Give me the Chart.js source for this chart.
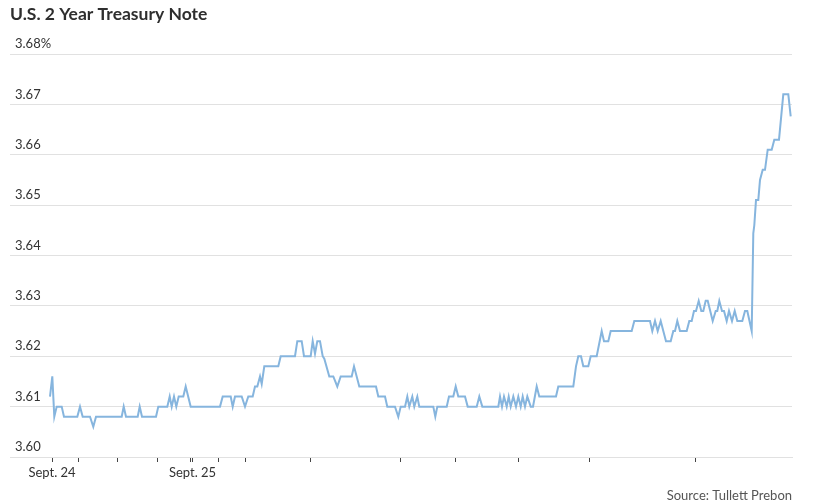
<!DOCTYPE html>
<html>
<head>
<meta charset="utf-8">
<script src="https://cdn.jsdelivr.net/npm/chart.js@4.4.1/dist/chart.umd.min.js"></script>
<style>
  html, body { margin: 0; padding: 0; background: #fff; }
</style>
</head>
<body>
<canvas id="chart" width="820" height="504"></canvas>
<script>
// position along the time axis (Sept. 24 tick = 0)
const times = [
  -2, 0.3, 2.3, 4.7, 9.7, 12, 25.3, 28, 30.7, 38,
  41.3, 44, 69.7, 71.7, 74, 85.7, 87.7, 90, 104, 106.3,
  115.3, 117.7, 119.7, 122, 124.3, 126.7, 131.3, 133.7, 138.7, 168,
  170.7, 178.7, 180.7, 183, 189.7, 193, 196.3, 200.7, 203, 205.3,
  208, 209.7, 212.3, 226.3, 228.7, 243, 245.3, 249.7, 252, 258.7,
  260.7, 263, 265.3, 268, 270.7, 272.3, 277.3, 281.3, 285.3, 288.7,
  299.7, 302, 307.3, 324, 326.3, 333, 335.3, 343, 346.3, 348.7,
  353, 355.3, 357.3, 360.3, 362.3, 365.3, 367.3, 381.3, 383.3, 385.3,
  394.7, 397, 401.3, 403.7, 406.3, 413, 415.7, 424.7, 427.3, 430.3,
  446.3, 448, 450, 452, 454.7, 456.7, 458.7, 461.3, 464, 466.3,
  468.7, 470.7, 473, 475.3, 478.7, 481, 484.7, 487.3, 504, 506.3,
  521.3, 524, 526.3, 529, 531.3, 536.3, 538.7, 544.7, 549.7, 552,
  556.3, 558.7, 579.7, 582.3, 598, 600.3, 603, 605.7, 608.7, 611.3,
  614, 618.7, 621.3, 623, 625.3, 628, 634.7, 637.3, 639.7, 642,
  644, 646.7, 649.3, 651.3, 653.7, 655.7, 660.7, 663.7, 665.3, 667.3,
  670, 672, 674.7, 677, 680, 682.7, 685.3, 690.3, 693, 695.3,
  699.7, 701.3, 702.3, 704, 706.3, 708, 710.7, 713, 715.7, 719.7,
  722.3, 727, 731.3, 736.3, 738.7
];
// yield in percent, same order as times
const yields = [
  3.612, 3.616, 3.608, 3.610, 3.610, 3.608, 3.608, 3.610, 3.608, 3.608,
  3.606, 3.608, 3.608, 3.610, 3.608, 3.608, 3.610, 3.608, 3.608, 3.610,
  3.610, 3.612, 3.610, 3.612, 3.610, 3.612, 3.612, 3.614, 3.610, 3.610,
  3.612, 3.612, 3.610, 3.612, 3.612, 3.610, 3.612, 3.612, 3.614, 3.614,
  3.616, 3.6145, 3.618, 3.618, 3.620, 3.620, 3.623, 3.623, 3.620, 3.620,
  3.623, 3.6205, 3.623, 3.623, 3.620, 3.6195, 3.616, 3.616, 3.614, 3.616,
  3.616, 3.618, 3.614, 3.614, 3.612, 3.612, 3.610, 3.610, 3.608, 3.610,
  3.610, 3.612, 3.610, 3.612, 3.610, 3.612, 3.610, 3.610, 3.608, 3.610,
  3.610, 3.612, 3.612, 3.614, 3.612, 3.612, 3.610, 3.610, 3.612, 3.610,
  3.610, 3.612, 3.610, 3.612, 3.610, 3.612, 3.610, 3.612, 3.610, 3.612,
  3.610, 3.612, 3.610, 3.612, 3.610, 3.610, 3.614, 3.612, 3.612, 3.614,
  3.614, 3.618, 3.620, 3.620, 3.618, 3.618, 3.620, 3.620, 3.625, 3.623,
  3.623, 3.625, 3.625, 3.627, 3.627, 3.625, 3.627, 3.625, 3.627, 3.625,
  3.623, 3.623, 3.625, 3.625, 3.627, 3.625, 3.625, 3.627, 3.627, 3.629,
  3.629, 3.631, 3.629, 3.629, 3.631, 3.631, 3.627, 3.629, 3.629, 3.631,
  3.629, 3.629, 3.627, 3.629, 3.627, 3.629, 3.627, 3.627, 3.629, 3.629,
  3.625, 3.6444, 3.646, 3.651, 3.651, 3.655, 3.657, 3.657, 3.661, 3.661,
  3.663, 3.663, 3.672, 3.672, 3.6676
];

const xTickValues = [0, 26, 66, 105, 138.5, 140.5, 166, 194, 258, 348, 403, 466, 537, 643];
const xTickLabels = ["Sept. 24", "", "", "", "", "Sept. 25", "", "", "", "", "", "", "", ""];
const yTickValues = [3.60, 3.61, 3.62, 3.63, 3.64, 3.65, 3.66, 3.67, 3.68];
const yTickLabels = ["3.60", "3.61", "3.62", "3.63", "3.64", "3.65", "3.66", "3.67", "3.68%"];

const points = times.map((t, i) => ({ x: t, y: yields[i] }));

const textColor = "#333";
const gridColor = "#e1e1e1";

new Chart(document.getElementById("chart"), {
  type: "line",
  data: {
    datasets: [{
      data: points,
      borderColor: "#86b5de",
      borderWidth: 2,
      pointRadius: 0,
      tension: 0
    }]
  },
  options: {
    responsive: false,
    animation: false,
    layout: { padding: { left: 10, right: 28, top: 0, bottom: 0 } },
    scales: {
      x: {
        type: "linear",
        min: -42,
        max: 740,
        afterBuildTicks: scale => { scale.ticks = xTickValues.map(v => ({ value: v })); },
        afterFit: scale => { scale.height = 31.4; },
        grid: { drawOnChartArea: false, drawTicks: true, tickLength: 5, tickColor: "#444" },
        border: { color: gridColor },
        ticks: {
          autoSkip: false,
          maxRotation: 0,
          padding: 3,
          color: textColor,
          font: { family: "Lato", size: 13 },
          callback: (v, i) => xTickLabels[i]
        }
      },
      y: {
        min: 3.60,
        max: 3.68,
        afterBuildTicks: scale => { scale.ticks = yTickValues.map(v => ({ value: v })); },
        afterFit: scale => { scale.width = 0; },
        grid: { color: gridColor, drawTicks: false },
        border: { display: false },
        ticks: {
          mirror: true,
          padding: 5,
          labelOffset: -10,
          color: textColor,
          font: { family: "Lato", size: 13 },
          callback: (v, i) => yTickLabels[i]
        }
      }
    },
    plugins: {
      legend: { display: false },
      tooltip: { enabled: false },
      title: {
        display: true,
        text: "U.S. 2 Year Treasury Note",
        align: "start",
        color: "#2e2e2e",
        font: { family: "Lato", size: 17.5, weight: "bold" },
        padding: { top: 4, bottom: 29 }
      },
      subtitle: {
        display: true,
        position: "bottom",
        text: "Source: Tullett Prebon",
        align: "end",
        color: "#555",
        font: { family: "Lato", size: 13 },
        padding: { top: 0, bottom: 0 }
      }
    }
  }
});
</script>
</body>
</html>
